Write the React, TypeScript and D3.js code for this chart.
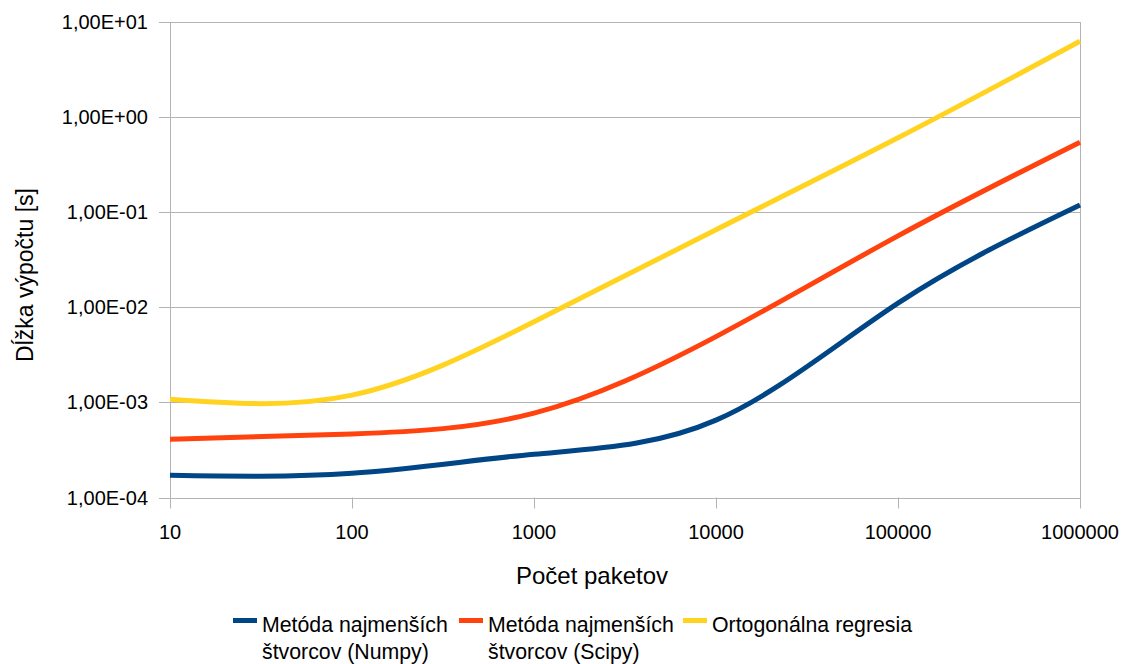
import React, { useEffect, useRef } from "react";
import * as d3 from "d3";

// number of packets (x axis)
const packets = [10, 100, 1000, 10000, 100000, 1000000];

// computation time in seconds
const numpyTimes = [1.71e-4, 1.8e-4, 2.85e-4, 6.5e-4, 1.1e-2, 0.118];
const scipyTimes = [4.1e-4, 4.65e-4, 7.7e-4, 4.9e-3, 0.056, 0.54];
const orthoTimes = [1.075e-3, 1.19e-3, 7.0e-3, 6.5e-2, 0.6, 6.2];

const seriesNames = [
    ["Metóda najmenších", "štvorcov (Numpy)"],
    ["Metóda najmenších", "štvorcov (Scipy)"],
    ["Ortogonálna regresia"],
];
const seriesColors = ["#004586", "#ff420e", "#ffd320"];

const yTicks = [1e-4, 1e-3, 1e-2, 1e-1, 1e0, 1e1];
const yTickLabels = ["1,00E-04", "1,00E-03", "1,00E-02", "1,00E-01", "1,00E+00", "1,00E+01"];

const App = () => {
    const svgRef = useRef<SVGSVGElement>(null);

    useEffect(() => {
        const svg = d3.select(svgRef.current);
        svg.selectAll("*").remove();

        const width = 1125;
        const height = 664;
        const plot = { left: 170, right: 1080, top: 21.5, bottom: 497.5 };
        const font = "'Liberation Sans', Arial, sans-serif";
        const gridColor = "#b3b3b3";

        const x = d3.scaleLog().domain([10, 1000000]).range([plot.left, plot.right]);
        const y = d3.scaleLog().domain([1e-4, 1e1]).range([plot.bottom, plot.top]);

        svg.append("rect")
            .attr("width", width)
            .attr("height", height)
            .attr("fill", "#fff");

        // horizontal grid lines + y ticks
        svg.selectAll(".hgrid")
            .data(yTicks)
            .join("line")
            .attr("class", "hgrid")
            .attr("x1", plot.left - 11)
            .attr("x2", plot.right)
            .attr("y1", (d) => Math.round(y(d)) + 0.5)
            .attr("y2", (d) => Math.round(y(d)) + 0.5)
            .attr("stroke", gridColor)
            .attr("stroke-width", 1);

        svg.selectAll(".ylabel")
            .data(yTicks)
            .join("text")
            .attr("class", "ylabel")
            .attr("x", plot.left - 22)
            .attr("y", (d) => y(d) + 7)
            .attr("text-anchor", "end")
            .attr("font-family", font)
            .attr("font-size", 20)
            .attr("fill", "#000")
            .text((d, i) => yTickLabels[i]);

        // x ticks
        svg.selectAll(".xtick")
            .data(packets)
            .join("line")
            .attr("class", "xtick")
            .attr("x1", (d) => Math.round(x(d)) + 0.5)
            .attr("x2", (d) => Math.round(x(d)) + 0.5)
            .attr("y1", plot.bottom)
            .attr("y2", plot.bottom + 11)
            .attr("stroke", gridColor);

        svg.selectAll(".xlabel")
            .data(packets)
            .join("text")
            .attr("class", "xlabel")
            .attr("x", (d) => x(d))
            .attr("y", 539)
            .attr("text-anchor", "middle")
            .attr("font-family", font)
            .attr("font-size", 20)
            .attr("fill", "#000")
            .text((d) => String(d));

        // plot frame
        svg.append("rect")
            .attr("x", plot.left + 0.5)
            .attr("y", Math.round(plot.top) + 0.5)
            .attr("width", plot.right - plot.left)
            .attr("height", Math.round(plot.bottom) - Math.round(plot.top))
            .attr("fill", "none")
            .attr("stroke", gridColor);

        // series lines, cubic spline
        const line = d3
            .line<number>()
            .x((d, i) => x(packets[i]))
            .y((d) => y(d))
            .curve(d3.curveNatural);

        const allSeries = [numpyTimes, scipyTimes, orthoTimes];
        svg.selectAll(".series")
            .data(allSeries)
            .join("path")
            .attr("class", "series")
            .attr("d", (d) => line(d))
            .attr("fill", "none")
            .attr("stroke", (d, i) => seriesColors[i])
            .attr("stroke-width", 5)
            .attr("stroke-linejoin", "round");

        // axis titles
        svg.append("text")
            .attr("x", 592)
            .attr("y", 584)
            .attr("text-anchor", "middle")
            .attr("font-family", font)
            .attr("font-size", 24)
            .text("Počet paketov");

        svg.append("text")
            .attr("transform", `translate(33,275) rotate(-90)`)
            .attr("text-anchor", "middle")
            .attr("font-family", font)
            .attr("font-size", 23)
            .text("Dĺžka výpočtu [s]");

        // legend
        const legendX = [233, 459, 683];
        const legend = svg.selectAll(".legend")
            .data(seriesNames)
            .join("g")
            .attr("class", "legend")
            .attr("transform", (d, i) => `translate(${legendX[i]},0)`);

        legend.append("rect")
            .attr("x", 0)
            .attr("y", 618)
            .attr("width", 24)
            .attr("height", 5)
            .attr("fill", (d, i) => seriesColors[i]);

        legend.append("text")
            .attr("font-family", font)
            .attr("font-size", 21.3)
            .selectAll("tspan")
            .data((d) => d)
            .join("tspan")
            .attr("x", 29)
            .attr("y", (d, i) => 632 + i * 26.5)
            .text((d) => d);
    }, []);

    return (
        <svg
            ref={svgRef}
            width={1125}
            height={664}
            style={{ position: "absolute", left: 0, top: 0 }}
        ></svg>
    );
};

export default App;
